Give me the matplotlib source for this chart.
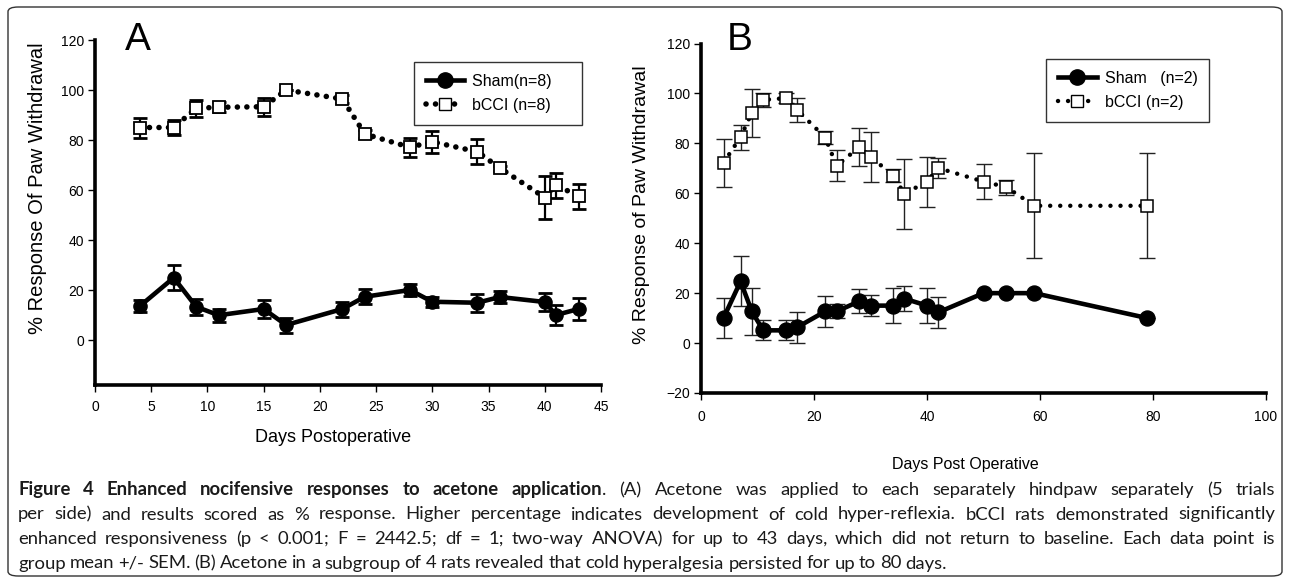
import matplotlib
matplotlib.use("Agg")
import matplotlib.pyplot as plt
from matplotlib.lines import Line2D
from matplotlib.patches import FancyBboxPatch

# panel A: days 4-43
days_a = [4, 7, 9, 11, 15, 17, 22, 24, 28, 30, 34, 36, 40, 41, 43]
bcci_a = [85, 85, 92.7, 93.1, 93.3, 100, 96.4, 82.4, 77.1, 79.3, 75.3, 68.8, 57, 62, 57.5]
bcci_a_err = [4, 3, 3.3, 2, 3.6, 0, 1.5, 1.5, 3.8, 4.3, 5, 1, 8.5, 5, 5]
sham_a = [13.6, 24.9, 13.3, 9.9, 12.4, 6, 12.4, 17.3, 20, 15.3, 14.9, 17.2, 15.2, 10, 12.4]
sham_a_err = [2.5, 5, 3.2, 2.5, 3.5, 3, 3, 3, 2.3, 2, 3.5, 2.5, 3.5, 4, 4.5]

# panel B: days 4-79
days_b = [4, 7, 9, 11, 15, 17, 22, 24, 28, 30, 34, 36, 40, 42, 50, 54, 59, 79]
bcci_b = [72.3, 82.5, 92.3, 97.4, 98.1, 93.4, 82.3, 71, 78.5, 74.7, 67.1, 59.8, 64.7, 70.1,
          64.7, 62.5, 55, 55]
bcci_b_err = [9.6, 5, 9.6, 2.7, 2, 4.7, 2.5, 6.2, 7.5, 10, 2.5, 14, 10, 4, 7, 3, 21, 21]
sham_b = [10.1, 24.7, 12.7, 5.1, 5.1, 6.3, 12.7, 12.7, 16.7, 15, 15, 17.8, 15, 12.3,
          20, 20, 20, 10]
sham_b_err = [8, 10, 9.5, 4, 4, 6.3, 6.3, 2.8, 4.8, 4.2, 7, 5, 7, 6.3, 0, 0, 0, 0]

caption_bold = "Figure 4 Enhanced nocifensive responses to acetone application"
caption_lines = [
    ". (A) Acetone was applied to each separately hindpaw separately (5 trials",
    "per side) and results scored as % response. Higher percentage indicates "
    "development of cold hyper-reflexia. bCCI rats demonstrated significantly",
    "enhanced responsiveness (p < 0.001; F = 2442.5; df = 1; two-way ANOVA) for up to "
    "43 days, which did not return to baseline. Each data point is",
    "group mean +/- SEM. (B) Acetone in a subgroup of 4 rats revealed that cold "
    "hyperalgesia persisted for up to 80 days.",
]

plt.rcParams["font.family"] = ["Liberation Sans", "DejaVu Sans"]

W, H = 1290, 579
fig = plt.figure(figsize=(W / 100, H / 100), dpi=100)
fig.patch.set_facecolor("white")

# outer rounded frame
fig.patches.append(FancyBboxPatch((8 / W, 3 / H), 1274 / W, 569 / H,
                                  boxstyle="round,pad=0,rounding_size=0.008",
                                  transform=fig.transFigure, fill=False,
                                  edgecolor="#333333", lw=1.0))

axA = fig.add_axes([95 / W, 1 - 385 / H, 506 / W, 345 / H])
axB = fig.add_axes([701 / W, 1 - 393 / H, 565 / W, 349.5 / H])

for ax in (axA, axB):
    ax.spines["top"].set_visible(False)
    ax.spines["right"].set_visible(False)
    ax.spines["left"].set_linewidth(2.6)
    ax.spines["bottom"].set_linewidth(2.6)
    ax.tick_params(direction="out", length=5, width=1, labelsize=10)

# ---- panel A ----
axA.errorbar(days_a, bcci_a, yerr=bcci_a_err, fmt="none", ecolor="black",
             elinewidth=1.6, capsize=5, capthick=2, zorder=2)
axA.plot(days_a, bcci_a, color="black", lw=4.0, linestyle=(0, (0.01, 1.7)),
         dash_capstyle="round", zorder=3)
axA.plot(days_a, bcci_a, "s", ms=8.6, mfc="white", mec="black", mew=1.3, zorder=4)
axA.errorbar(days_a, sham_a, yerr=sham_a_err, fmt="none", ecolor="black",
             elinewidth=1.6, capsize=5, capthick=2, zorder=2)
axA.plot(days_a, sham_a, color="black", lw=3.3, marker="o", ms=9.5, zorder=4)

axA.set_xlim(0, 45)
axA.set_ylim(-18, 120)
axA.set_xticks(range(0, 46, 5))
axA.set_yticks(range(0, 121, 20))
axA.tick_params(axis="x", pad=6)
axA.tick_params(axis="y", pad=3)

hA = [Line2D([], [], color="black", lw=3.3, marker="o", ms=11),
      Line2D([], [], color="black", lw=4.0, linestyle=(0, (0.01, 1.7)),
             dash_capstyle="round", marker="s", ms=8.6, mfc="white", mec="black")]
legA = axA.legend(hA, ["Sham(n=8)    ", "bCCI (n=8)    "], loc="upper left",
                  bbox_to_anchor=(0.630, 0.936), fontsize=11.5, frameon=True,
                  fancybox=False, edgecolor="black", borderpad=0.75,
                  labelspacing=0.55, handlelength=2.4, handletextpad=0.5,
                  borderaxespad=0)
legA.get_frame().set_linewidth(1.0)

# ---- panel B ----
axB.errorbar(days_b, bcci_b, yerr=bcci_b_err, fmt="none", ecolor="#222222",
             elinewidth=1.0, capsize=6, capthick=1.0, zorder=2)
axB.plot(days_b, bcci_b, color="black", lw=3.2, linestyle=(0, (0.01, 2.25)),
         dash_capstyle="round", zorder=3)
axB.plot(days_b, bcci_b, "s", ms=9, mfc="white", mec="black", mew=1.1, zorder=4)
axB.errorbar(days_b, sham_b, yerr=sham_b_err, fmt="none", ecolor="#222222",
             elinewidth=1.0, capsize=6, capthick=1.0, zorder=2)
axB.plot(days_b, sham_b, color="black", lw=3.3, marker="o", ms=10.8, zorder=4)

axB.set_xlim(0, 100)
axB.set_ylim(-20, 120)
axB.set_xticks(range(0, 101, 20))
axB.set_yticks(range(-20, 121, 20))
axB.tick_params(axis="x", pad=7)
axB.tick_params(axis="y", pad=3)

hB = [Line2D([], [], color="black", lw=3.3, marker="o", ms=11),
      Line2D([], [], color="black", lw=3.2, linestyle=(0, (0.01, 2.25)),
             dash_capstyle="round", marker="s", ms=9, mfc="white", mec="black")]
legB = axB.legend(hB, ["Sham   (n=2)", "bCCI (n=2)"], loc="upper left",
                  bbox_to_anchor=(0.611, 0.956), fontsize=11.5, frameon=True,
                  fancybox=False, edgecolor="black", borderpad=0.75,
                  labelspacing=0.55, handlelength=2.4, handletextpad=0.5,
                  borderaxespad=0)
legB.get_frame().set_linewidth(1.0)

# axis labels and panel letters
fig.text(38 / W, 1 - 188 / H, "% Response Of Paw Withdrawal", rotation=90,
         ha="center", va="center", fontsize=14.5)
fig.text(333 / W, 1 - 437 / H, "Days Postoperative", ha="center", va="center",
         fontsize=13)
fig.text(641 / W, 1 - 205 / H, "% Response of Paw Withdrawal", rotation=90,
         ha="center", va="center", fontsize=14)
fig.text(965 / W, 1 - 464 / H, "Days Post Operative", ha="center", va="center",
         fontsize=11.5)
fig.text(125 / W, 1 - 50 / H, "A", fontsize=28, va="baseline")
fig.text(727 / W, 1 - 50 / H, "B", fontsize=28, va="baseline")

# ---- caption, justified like the journal layout ----
CAP_FONT = ["Lato", "DejaVu Sans"]
CAP_FS = 13.3
X0, X1 = 18, 1275
renderer = fig.canvas.get_renderer()


def words(text, weight, glue_first=False):
    toks = []
    for i, w in enumerate(text.split(" ")):
        toks.append((w, weight, not (i == 0 and glue_first)))
    return toks


def put_line(tokens, ybase, justify):
    arts, widths = [], []
    for w, weight, _ in tokens:
        t = fig.text(0, 1 - ybase / H, w, fontsize=CAP_FS, fontweight=weight,
                     family=CAP_FONT, va="baseline", ha="left", color="#1a1a1a")
        arts.append(t)
        widths.append(t.get_window_extent(renderer).width)
    nsp = sum(1 for tok in tokens[1:] if tok[2])
    if justify and nsp:
        gap = (X1 - X0 - sum(widths)) / nsp
    else:
        gap = CAP_FS * 0.3
    x = X0
    for i, (t, w, tok) in enumerate(zip(arts, widths, tokens)):
        if i > 0 and tok[2]:
            x += gap
        t.set_x(x / W)
        x += w


line1 = words(caption_bold, "bold") + words(caption_lines[0], "normal", glue_first=True)
put_line(line1, 495, True)
put_line(words(caption_lines[1], "normal"), 519.5, True)
put_line(words(caption_lines[2], "normal"), 544, True)
put_line(words(caption_lines[3], "normal"), 568.5, False)

fig.savefig("out.png", dpi=100, facecolor="white")
